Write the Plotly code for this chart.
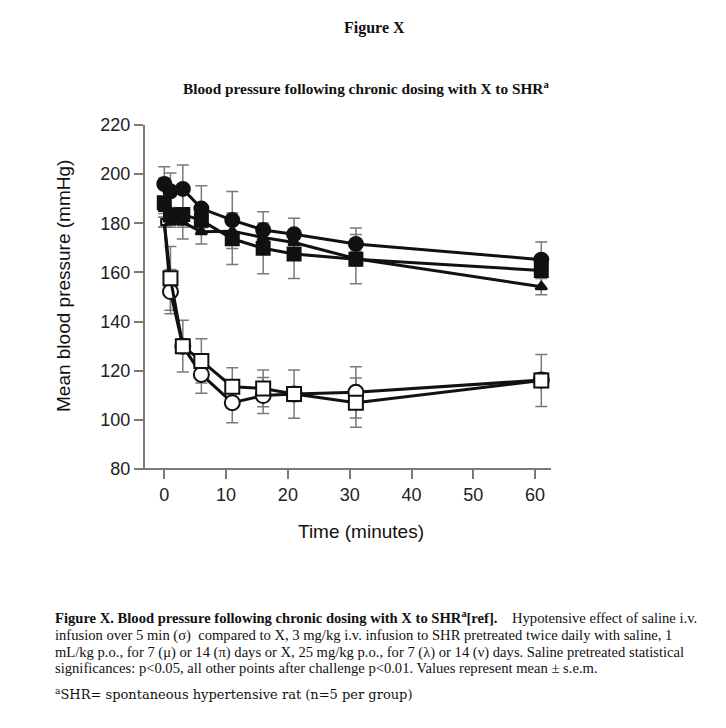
import plotly.graph_objects as go

# ---- data ----
time_min = [0, 1, 3, 6, 11, 16, 21, 31, 61]

filled_circle = [196, 193, 194, 186, 181.3, 177.3, 175.5, 171.6, 165.2]
filled_circle_err = [7, 7.5, 9.7, 9.3, 11.6, 7.4, 6.5, 6.5, 7.2]

filled_square = [188.4, 183.4, 183.6, 181.2, 173.7, 169.8, 167.5, 165.4, 160.8]
filled_square_err = [10, 3, 10, 3, 10.5, 10.3, 10, 10, 3]

filled_triangle = [186, 180.4, 180.4, 176.6, 176.8, 174.2, 172.2, 165.6, 154.2]
filled_triangle_err = [2, 2, 2, 5, 3, 3, 3, 3, 3.3]

open_square = [180.5, 157.6, 130, 124, 113.5, 112.8, 110.5, 107, 116]
open_square_err = [2, 13, 10.5, 9, 7.7, 7.5, 9.8, 10, 10.6]

open_circle = [180.5, 152.2, 130, 118.5, 107, 109.9, 110.5, 111.2, 116.2]
open_circle_err = [2, 9, 3, 7.7, 8.2, 7.3, 3, 10.4, 3]

x_ticks = [0, 10, 20, 30, 40, 50, 60]
y_ticks = [80, 100, 120, 140, 160, 180, 200, 220]

ERR_COL = "#7a7a7a"
AX_COL = "#7a7a7a"

# page offset of the plot div (body margin)
OFF = 8
PL, PT, PW, PH = 145, 125, 406, 344   # plot box in page pixels

series = [
    (open_circle, open_circle_err, "circle", "white", 15, 6),
    (open_square, open_square_err, "square", "white", 14, 6),
    (filled_triangle, filled_triangle_err, "triangle-up", "#111111", 10, None),
    (filled_square, filled_square_err, "square", "#111111", 13, None),
    (filled_circle, filled_circle_err, "circle", "#111111", 14, None),
]

fig = go.Figure()
# error bars first, so that every marker sits above them
for y, err, *_ in series:
    fig.add_trace(go.Scatter(
        x=time_min, y=y, mode="markers",
        marker=dict(size=1, color="rgba(0,0,0,0)"),
        error_y=dict(type="data", array=err, visible=True,
                     color=ERR_COL, thickness=1.5, width=6),
        showlegend=False, hoverinfo="skip", cliponaxis=False,
    ))
for y, err, symbol, fill, size, first_size in series:
    sizes = [size] * len(time_min)
    if first_size is not None:
        sizes[0] = first_size
    fig.add_trace(go.Scatter(
        x=time_min, y=y, mode="lines+markers",
        line=dict(color="#111111", width=3),
        marker=dict(symbol=symbol, size=sizes, color=fill, opacity=1,
                    line=dict(color="#111111", width=2)),
        showlegend=False, cliponaxis=False,
    ))

fig.update_layout(
    width=726, height=728,
    margin=dict(l=PL - OFF, r=726 - PL - PW + OFF, t=PT - OFF, b=728 - PT - PH + OFF),
    paper_bgcolor="white", plot_bgcolor="white",
    font=dict(family="Liberation Sans, Arial, sans-serif", color="#222222"),
    xaxis=dict(range=[-3.12, 62.57], tickvals=x_ticks, ticks="outside",
               ticklen=9, tickwidth=1.5, tickcolor=AX_COL, showline=False,
               showgrid=False, zeroline=False, tickfont=dict(size=18)),
    yaxis=dict(range=[80, 220], tickvals=y_ticks, ticks="outside",
               ticklen=9, tickwidth=1.5, tickcolor=AX_COL, showline=True,
               linecolor=AX_COL, linewidth=2, showgrid=False, zeroline=False,
               tickfont=dict(size=18)),
)

# x axis baseline extending slightly left of the y axis
fig.add_shape(type="line", xref="paper", yref="paper", x0=-0.025, x1=1.0,
              y0=0, y1=0, line=dict(color=AX_COL, width=2))

serif = "Liberation Serif, Times New Roman, serif"
sans = "Liberation Sans, Arial, sans-serif"
annos = [
    dict(text="<b>Figure X</b>", x=374, y=28, size=16, fam=serif, xanchor="center"),
    dict(text="<b>Blood pressure following chronic dosing with X to SHR<sup>a</sup></b>",
         x=366, y=87, size=15.3, fam=serif, xanchor="center"),
    dict(text="Mean blood pressure (mmHg)", x=63, y=286, size=19,
         fam=sans, xanchor="center", angle=-90),
    dict(text="Time (minutes)", x=361, y=531, size=19, fam=sans, xanchor="center"),
    dict(text="<b>Figure X. Blood pressure following chronic dosing with X to SHR<sup>a</sup>[ref].</b>    Hypotensive effect of saline i.v.",
         x=53, y=617, size=14.6, fam=serif, xanchor="left"),
    dict(text="infusion over 5 min (σ)  compared to X, 3 mg/kg i.v. infusion to SHR pretreated twice daily with saline, 1",
         x=53, y=635, size=14.6, fam=serif, xanchor="left"),
    dict(text="mL/kg p.o., for 7 (μ) or 14 (π) days or X, 25 mg/kg p.o., for 7 (λ) or 14 (ν) days. Saline pretreated statistical",
         x=53, y=652, size=14.6, fam=serif, xanchor="left"),
    dict(text="significances: p&lt;0.05, all other points after challenge p&lt;0.01. Values represent mean ± s.e.m.",
         x=53, y=668, size=14.6, fam=serif, xanchor="left"),
    dict(text="<sup>a</sup>SHR= spontaneous hypertensive rat (n=5 per group)",
         x=53, y=694, size=13, fam="DejaVu Serif, serif", xanchor="left"),
]
for a in annos:
    fig.add_annotation(
        text=a["text"], xref="paper", yref="paper",
        x=(a["x"] - PL) / PW, y=1 - (a["y"] - PT) / PH,
        xanchor=a["xanchor"], yanchor="middle", showarrow=False,
        textangle=a.get("angle", 0),
        font=dict(family=a["fam"], size=a["size"], color="#111111"),
    )

fig.write_html("out.html")
